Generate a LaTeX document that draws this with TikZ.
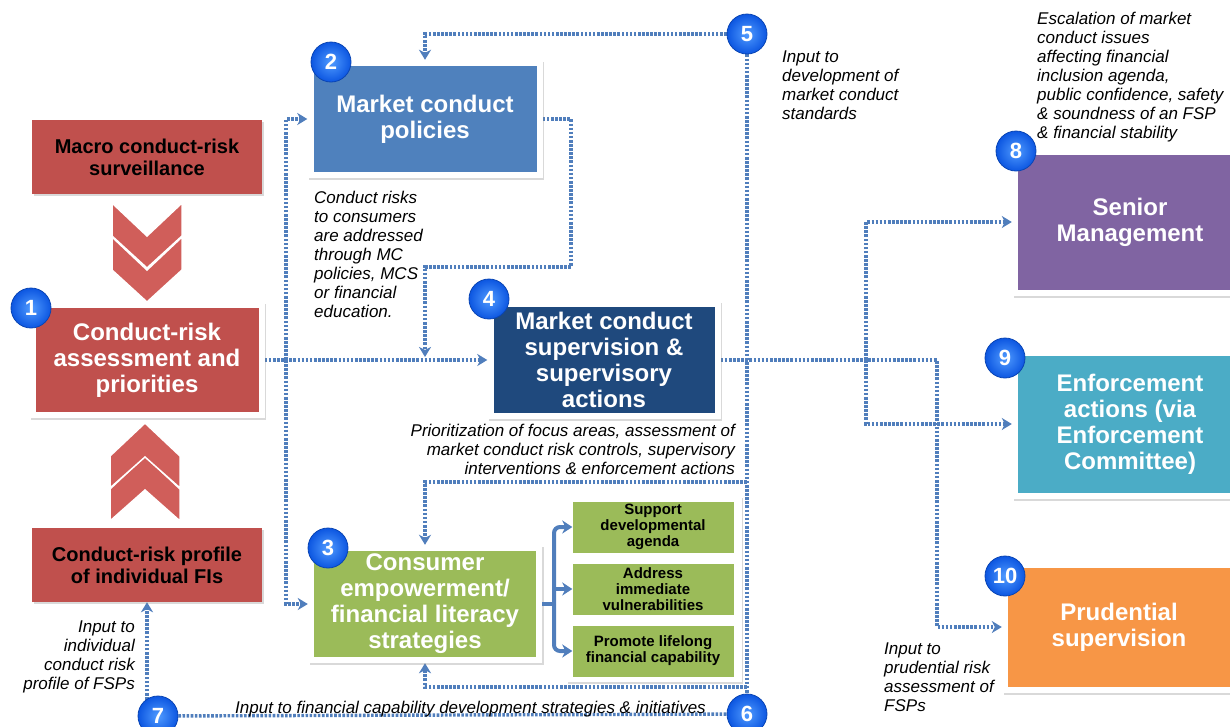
\documentclass[tikz,border=0pt]{standalone}
\usepackage{fontspec}
\setmainfont{Liberation Sans}
\usepackage{tikz}
\usetikzlibrary{arrows.meta}
\usetikzlibrary{shadows}
\usetikzlibrary{backgrounds}

\definecolor{riskred}{RGB}{192,80,77}
\definecolor{chevred}{RGB}{208,94,90}
\definecolor{polblue}{RGB}{79,129,189}
\definecolor{supnavy}{RGB}{31,73,125}
\definecolor{empgreen}{RGB}{155,187,89}
\definecolor{mgmtpurple}{RGB}{128,100,162}
\definecolor{enfteal}{RGB}{75,172,198}
\definecolor{prudorange}{RGB}{247,150,70}
\definecolor{flowblue}{RGB}{80,126,188}
\definecolor{badgelight}{RGB}{80,155,255}
\definecolor{badgeblue}{RGB}{12,86,225}

\tikzset{
        softshadow/.style={drop shadow={shadow xshift=1.5pt, shadow yshift=-2pt, opacity=.3}},
        panel/.style={fill=white, softshadow, inner sep=0pt, align=center, text=white,
                font=\bfseries\fontsize{24}{26}\selectfont,
                path picture={\fill[#1] ([xshift=6pt,yshift=-6pt]path picture bounding box.north west)
                        rectangle ([xshift=-6pt,yshift=6pt]path picture bounding box.south east);}},
        redbox/.style={fill=riskred, softshadow, inner sep=0pt, align=center,
                font=\bfseries\fontsize{20}{22}\selectfont, minimum width=230pt, minimum height=74pt},
        subbox/.style={fill=empgreen, inner sep=0pt, align=center,
                font=\bfseries\fontsize{15}{16}\selectfont, minimum width=161pt, minimum height=51pt},
        badge/.style={circle, shading=radial, inner color=badgelight, outer color=badgeblue,
                draw=badgeblue!80!black, line width=.8pt, text=white, inner sep=0pt, minimum size=40pt,
                font=\bfseries\fontsize{22}{22}\selectfont},
        note/.style={inner sep=0pt, font=\itshape\fontsize{17}{19}\selectfont},
        flow/.style={draw=flowblue, line width=3.4pt, dash pattern=on 2.6pt off 1.5pt},
        brace/.style={draw=flowblue, line width=4pt, rounded corners=6pt},
        chevron/.style={fill=chevred, draw=white, line width=1.5pt, line join=miter}
}

\begin{document}
\begin{tikzpicture}[x=1pt, y=-1pt, >={Stealth[length=10pt, width=12pt, inset=3pt]}]
        \useasboundingbox (0,0) rectangle (1230,726);

        \node[redbox] (macro) at (147,157) {Macro conduct-risk\\surveillance};
        \node[panel=riskred, minimum width=235pt, minimum height=116pt] (risk) at (147,360) {Conduct-risk\\assessment and\\priorities};
        \node[redbox] (prof) at (147,565) {Conduct-risk profile\\of individual FIs};

        \foreach \dy in {0,34}
                \draw[chevron] (112,203+\dy) -- (147,236+\dy) -- (182,203+\dy) -- (182,236+\dy) -- (147,268+\dy) -- (112,236+\dy) -- cycle;
        \foreach \dy in {33,0}
                \draw[chevron] (110,456+\dy) -- (145,423+\dy) -- (180,456+\dy) -- (180,488+\dy) -- (145,457+\dy) -- (110,488+\dy) -- cycle;

        \node[panel=polblue, minimum width=235pt, minimum height=118pt] (pol) at (425,119) {Market conduct\\policies};
        \node[panel=supnavy, minimum width=233pt, minimum height=118pt] (sup) at (604,360) {Market conduct\\supervision \&\\supervisory\\actions};
        \node[panel=empgreen, minimum width=234pt, minimum height=118pt] (emp) at (425,604) {Consumer\\empowerment/\\financial literacy\\strategies};

        \node[fill=white, softshadow, minimum width=175pt, minimum height=186pt] (strat) at (654,589) {};
        \node[subbox] (dev) at (653,527) {Support\\developmental\\agenda};
        \node[subbox] (vul) at (653,589) {Address\\immediate\\vulnerabilities};
        \node[subbox] (life) at (653,651) {Promote lifelong\\financial capability};

        \node[panel=mgmtpurple, minimum width=236pt, minimum height=147pt] (mgmt) at (1130,222) {Senior\\Management};
        \node[panel=enfteal, minimum width=236pt, minimum height=149pt] (enf) at (1130,424) {Enforcement\\actions (via\\Enforcement\\Committee)};
        \node[panel=prudorange, minimum width=234pt, minimum height=131pt] (prud) at (1119,627) {Prudential\\supervision};

        \node[note, anchor=north west, align=left] (risknote) at (314,191) {Conduct risks\\to consumers\\are addressed\\through MC\\policies, MCS\\or financial\\education.};
        \node[note, anchor=north west, align=left] (stdnote) at (782,51) {Input to\\development of\\market conduct\\standards};
        \node[note, anchor=north west, align=left] (escnote) at (1037,12) {Escalation of market\\conduct issues\\affecting financial\\inclusion agenda,\\public confidence, safety\\\& soundness of an FSP\\\& financial stability};
        \node[note, anchor=north east, align=right] (prionote) at (735,424) {Prioritization of focus areas, assessment of\\market conduct risk controls, supervisory\\interventions \& enforcement actions};
        \node[note, anchor=north east, align=right] (profnote) at (135,621) {Input to\\individual\\conduct risk\\profile of FSPs};
        \node[note, anchor=north west, align=left] (prudnote) at (884,643) {Input to\\prudential risk\\assessment of\\FSPs};
        \node[note, anchor=base west] (capnote) at (235,713) {Input to financial capability development strategies \& initiatives};

        \node[badge] (b1) at (31,308) {1};
        \node[badge] (b2) at (331,62) {2};
        \node[badge] (b3) at (328,548) {3};
        \node[badge] (b4) at (489,299) {4};
        \node[badge] (b5) at (747,34) {5};
        \node[badge] (b6) at (747,714) {6};
        \node[badge] (b7) at (158,716) {7};
        \node[badge] (b8) at (1016,151) {8};
        \node[badge] (b9) at (1005,358) {9};
        \node[badge] (b10) at (1005,576) {10};

        \coordinate (riskj) at (286,360);
        \coordinate (polturn) at (571,267);
        \coordinate (polj) at (425,357);
        \coordinate (empj) at (747,482);
        \coordinate (empk) at (747,687);
        \coordinate (escj) at (866,360);
        \coordinate (prudj) at (937,360);
        \coordinate (bracej) at (554,604);

        \begin{scope}[on background layer]
        \draw[flow,->] (b5) -| (pol.north);
        \draw[flow] (b5) -- (b6);
        \draw[flow] (b7) -- (b6);
        \draw[flow,->] (b7 -| prof.south) -- (prof.south);
        \draw[flow,->] (risk.east) -- (sup.west);
        \draw[flow,->] (riskj) |- (pol.west);
        \draw[flow,->] (riskj) |- (emp.west);
        \draw[flow,->] (pol.east) -| (polturn) -| (polj);
        \draw[flow,->] (empj) -| (emp.north);
        \draw[flow,->] (empk) -| (emp.south);
        \draw[flow,->] (sup.east) -- (prudj) |- (prud.west);
        \draw[flow,->] (escj) |- (mgmt.west);
        \draw[flow,->] (escj) |- (enf.west);
        \end{scope}

        \draw[brace] (emp.east) -- (bracej);
        \draw[brace,-{Stealth[length=10pt, width=13pt, inset=3pt]}] (bracej) |- (dev.west);
        \draw[brace,-{Stealth[length=10pt, width=13pt, inset=3pt]}] (bracej) |- (life.west);
        \draw[brace,-{Stealth[length=10pt, width=13pt, inset=3pt]}] (bracej |- vul.west) -- (vul.west);
\end{tikzpicture}
\end{document}
